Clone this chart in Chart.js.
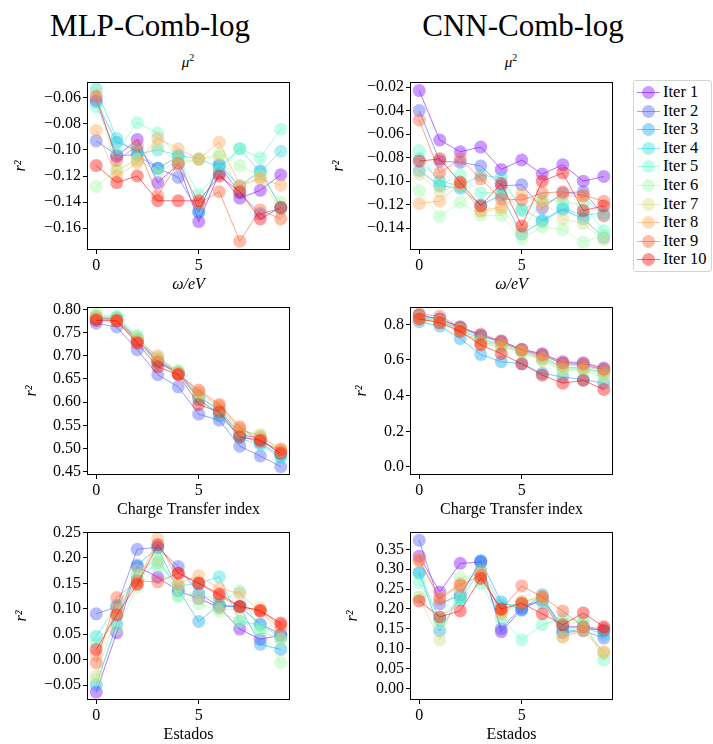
<!DOCTYPE html>
<html>
<head>
<meta charset="utf-8">
<script src="https://cdn.jsdelivr.net/npm/chart.js@4.4.1/dist/chart.umd.min.js"></script>
<style>
  body { margin: 0; background: #fff; font-family: "Liberation Serif", serif; color: #000; }
  #page { position: relative; width: 713px; height: 744px; overflow: hidden; }
  .panel { position: absolute; }
  .bigtitle { position: absolute; font-size: 31px; line-height: 31px; transform: translateX(-50%); white-space: nowrap; }
  .coltitle { position: absolute; font-size: 15px; line-height: 15px; transform: translateX(-50%); white-space: nowrap; }
  .coltitle sup { font-size: 10px; font-style: normal; }
  #legend { position: absolute; left: 633px; top: 80px; width: 79px; height: 192px; box-sizing: border-box;
            border: 1px solid #d4d4d4; border-radius: 3px; padding-top: 2px; }
  .lrow { position: relative; height: 18.6px; line-height: 18.6px; font-size: 16.5px; }
  .lline { position: absolute; left: 3px; width: 23px; top: 9px; height: 1px; }
  .ldot { position: absolute; left: 8px; top: 3px; width: 13px; height: 13px; border-radius: 50%; }
  .ltext { position: absolute; left: 29px; }
</style>
</head>
<body>
<div id="page">
  <div class="bigtitle" style="left:150px; top:10px;">MLP-Comb-log</div>
  <div class="bigtitle" style="left:523px; top:10px;">CNN-Comb-log</div>
  <div class="coltitle" style="left:188px; top:50px;"><i>μ</i><sup>2</sup></div>
  <div class="coltitle" style="left:511px; top:50px;"><i>μ</i><sup>2</sup></div>
  <div id="legend"></div>
</div>
<script>
const iterLabels = ["Iter 1", "Iter 2", "Iter 3", "Iter 4", "Iter 5",
                    "Iter 6", "Iter 7", "Iter 8", "Iter 9", "Iter 10"];
// rainbow colormap, purple -> red
const iterColors = [[128, 0, 255], [71, 87, 251], [14, 164, 240], [43, 221, 221], [99, 251, 195],
                    [156, 251, 164], [213, 221, 128], [255, 164, 87], [255, 87, 44], [255, 0, 0]];
const stepIndex = [0, 1, 2, 3, 4, 5, 6, 7, 8, 9];
const xTickValues = [0, 5];

// one row per iteration
const mlpMu2 = [
  [-0.062, -0.105, -0.092, -0.125, -0.111, -0.155, -0.118, -0.137, -0.131, -0.119],
  [-0.093, -0.104, -0.104, -0.114, -0.121, -0.148, -0.112, -0.133, -0.149, -0.145],
  [-0.063, -0.094, -0.100, -0.114, -0.105, -0.147, -0.111, -0.128, -0.116, -0.144],
  [-0.053, -0.091, -0.103, -0.100, -0.104, -0.107, -0.113, -0.099, -0.117, -0.101],
  [-0.067, -0.101, -0.079, -0.087, -0.106, -0.134, -0.116, -0.099, -0.106, -0.084],
  [-0.128, -0.115, -0.107, -0.117, -0.109, -0.107, -0.103, -0.112, -0.120, -0.140],
  [-0.057, -0.116, -0.108, -0.096, -0.111, -0.107, -0.105, -0.129, -0.121, -0.147],
  [-0.085, -0.120, -0.110, -0.091, -0.099, -0.107, -0.094, -0.127, -0.122, -0.127],
  [-0.059, -0.108, -0.097, -0.135, -0.110, -0.141, -0.132, -0.170, -0.146, -0.153],
  [-0.112, -0.125, -0.120, -0.139, -0.139, -0.139, -0.120, -0.132, -0.153, -0.144]
];
const cnnMu2 = [
  [-0.023, -0.065, -0.075, -0.071, -0.090, -0.082, -0.094, -0.086, -0.100, -0.096],
  [-0.040, -0.083, -0.084, -0.087, -0.104, -0.103, -0.123, -0.110, -0.109, -0.129],
  [-0.091, -0.104, -0.106, -0.120, -0.112, -0.145, -0.134, -0.124, -0.132, -0.148],
  [-0.081, -0.100, -0.104, -0.095, -0.097, -0.124, -0.133, -0.123, -0.129, -0.127],
  [-0.074, -0.103, -0.095, -0.110, -0.109, -0.125, -0.115, -0.118, -0.120, -0.142],
  [-0.108, -0.130, -0.118, -0.129, -0.129, -0.149, -0.139, -0.141, -0.152, -0.146],
  [-0.094, -0.109, -0.103, -0.126, -0.124, -0.142, -0.117, -0.132, -0.136, -0.150],
  [-0.119, -0.117, -0.102, -0.125, -0.122, -0.111, -0.120, -0.112, -0.113, -0.130],
  [-0.048, -0.093, -0.081, -0.098, -0.115, -0.116, -0.110, -0.109, -0.112, -0.117],
  [-0.083, -0.081, -0.101, -0.121, -0.102, -0.138, -0.100, -0.093, -0.125, -0.121]
];
const mlpCharge = [
  [0.780, 0.779, 0.735, 0.690, 0.663, 0.612, 0.583, 0.531, 0.521, 0.488],
  [0.770, 0.762, 0.713, 0.659, 0.633, 0.574, 0.561, 0.505, 0.484, 0.461],
  [0.781, 0.780, 0.733, 0.688, 0.661, 0.608, 0.570, 0.528, 0.512, 0.484],
  [0.784, 0.782, 0.737, 0.684, 0.664, 0.605, 0.577, 0.522, 0.508, 0.480],
  [0.785, 0.785, 0.744, 0.692, 0.667, 0.615, 0.581, 0.534, 0.524, 0.486],
  [0.790, 0.783, 0.741, 0.695, 0.668, 0.610, 0.586, 0.537, 0.531, 0.492],
  [0.787, 0.778, 0.739, 0.697, 0.665, 0.618, 0.589, 0.540, 0.528, 0.495],
  [0.783, 0.777, 0.731, 0.700, 0.662, 0.622, 0.592, 0.543, 0.526, 0.500],
  [0.778, 0.776, 0.729, 0.686, 0.660, 0.626, 0.595, 0.547, 0.515, 0.497],
  [0.776, 0.775, 0.727, 0.676, 0.659, 0.595, 0.579, 0.525, 0.518, 0.490]
];
const cnnCharge = [
  [0.852, 0.830, 0.785, 0.738, 0.705, 0.660, 0.635, 0.590, 0.585, 0.555],
  [0.848, 0.828, 0.782, 0.735, 0.700, 0.655, 0.625, 0.580, 0.572, 0.545],
  [0.815, 0.790, 0.720, 0.630, 0.590, 0.580, 0.525, 0.505, 0.490, 0.470],
  [0.840, 0.818, 0.775, 0.720, 0.690, 0.650, 0.610, 0.560, 0.555, 0.530],
  [0.845, 0.822, 0.772, 0.715, 0.680, 0.645, 0.605, 0.555, 0.550, 0.525],
  [0.842, 0.815, 0.768, 0.705, 0.672, 0.642, 0.600, 0.548, 0.545, 0.515],
  [0.835, 0.812, 0.765, 0.690, 0.675, 0.648, 0.595, 0.540, 0.540, 0.500],
  [0.830, 0.815, 0.770, 0.695, 0.695, 0.652, 0.615, 0.570, 0.565, 0.540],
  [0.858, 0.845, 0.785, 0.745, 0.708, 0.658, 0.630, 0.585, 0.578, 0.548],
  [0.830, 0.808, 0.760, 0.685, 0.635, 0.578, 0.515, 0.470, 0.485, 0.435]
];
const mlpStates = [
  [-0.064, 0.053, 0.183, 0.162, 0.135, 0.120, 0.103, 0.060, 0.040, 0.048],
  [0.090, 0.104, 0.217, 0.221, 0.183, 0.130, 0.105, 0.104, 0.070, 0.050],
  [-0.050, 0.070, 0.186, 0.220, 0.137, 0.075, 0.108, 0.104, 0.030, 0.020],
  [0.046, 0.107, 0.160, 0.190, 0.145, 0.150, 0.163, 0.075, 0.068, 0.045],
  [0.032, 0.085, 0.165, 0.205, 0.125, 0.130, 0.115, 0.135, 0.055, 0.040],
  [-0.040, 0.060, 0.143, 0.183, 0.125, 0.110, 0.095, 0.075, 0.060, -0.006],
  [-0.032, 0.090, 0.175, 0.195, 0.145, 0.120, 0.100, 0.098, 0.102, 0.040],
  [0.009, 0.100, 0.150, 0.238, 0.150, 0.165, 0.140, 0.130, 0.095, 0.060],
  [-0.006, 0.122, 0.155, 0.153, 0.170, 0.150, 0.125, 0.104, 0.097, 0.068],
  [0.020, 0.088, 0.148, 0.226, 0.170, 0.150, 0.129, 0.105, 0.096, 0.072]
];
const cnnStates = [
  [0.333, 0.243, 0.315, 0.318, 0.143, 0.199, 0.225, 0.155, 0.155, 0.145],
  [0.373, 0.213, 0.235, 0.320, 0.150, 0.205, 0.222, 0.140, 0.145, 0.127],
  [0.292, 0.145, 0.230, 0.322, 0.218, 0.197, 0.236, 0.142, 0.150, 0.146],
  [0.290, 0.172, 0.222, 0.300, 0.210, 0.212, 0.215, 0.150, 0.155, 0.135],
  [0.267, 0.178, 0.225, 0.265, 0.176, 0.122, 0.160, 0.176, 0.170, 0.071],
  [0.230, 0.165, 0.279, 0.288, 0.185, 0.215, 0.225, 0.165, 0.165, 0.088],
  [0.229, 0.122, 0.250, 0.280, 0.195, 0.218, 0.228, 0.128, 0.150, 0.090],
  [0.325, 0.229, 0.264, 0.295, 0.190, 0.218, 0.232, 0.130, 0.145, 0.092],
  [0.322, 0.225, 0.260, 0.285, 0.198, 0.258, 0.230, 0.195, 0.155, 0.150],
  [0.220, 0.180, 0.195, 0.277, 0.200, 0.214, 0.188, 0.160, 0.190, 0.155]
];

// y tick positions per panel
const mlpMu2Ticks = [-0.16, -0.14, -0.12, -0.10, -0.08, -0.06];
const cnnMu2Ticks = [-0.14, -0.12, -0.10, -0.08, -0.06, -0.04, -0.02];
const mlpChargeTicks = [0.45, 0.50, 0.55, 0.60, 0.65, 0.70, 0.75, 0.80];
const cnnChargeTicks = [0.0, 0.2, 0.4, 0.6, 0.8];
const mlpStatesTicks = [-0.05, 0.00, 0.05, 0.10, 0.15, 0.20, 0.25];
const cnnStatesTicks = [0.00, 0.05, 0.10, 0.15, 0.20, 0.25, 0.30, 0.35];

const FONT = '"Liberation Serif", serif';
Chart.defaults.font.family = FONT;
Chart.defaults.color = "#000";

const rgba = (c, a) => `rgba(${c[0]}, ${c[1]}, ${c[2]}, ${a})`;
const fmt = (v, d) => v.toFixed(d).replace("-", "\u2212");

// box around the plotting area
const framePlugin = {
    id: "frame",
    afterDraw(chart) {
        const { ctx, chartArea: a } = chart;
        ctx.save();
        ctx.strokeStyle = "#000";
        ctx.lineWidth = 1;
        ctx.strokeRect(Math.round(a.left) + 0.5, Math.round(a.top) + 0.5,
                       Math.round(a.right - a.left) - 1, Math.round(a.bottom - a.top) - 1);
        ctx.restore();
    },
};

const page = document.getElementById("page");

function makePanel(p) {
    const canvas = document.createElement("canvas");
    canvas.className = "panel";
    canvas.width = p.w;
    canvas.height = 225;
    canvas.style.left = p.left + "px";
    canvas.style.top = p.top - 12 + "px";
    page.appendChild(canvas);

    const datasets = p.series.map((vals, i) => ({
        label: iterLabels[i],
        data: vals.map((v, k) => ({ x: stepIndex[k], y: v })),
        borderColor: rgba(iterColors[i], 0.55),
        backgroundColor: rgba(iterColors[i], 0.4),
        borderWidth: 1,
        pointRadius: 6.5,
        pointHoverRadius: 6.5,
        pointBorderWidth: 0,
        tension: 0,
        order: 10 - i,
    }));

    new Chart(canvas, {
        type: "line",
        data: { datasets },
        plugins: [framePlugin],
        options: {
            responsive: false,
            animation: false,
            events: [],
            layout: { padding: { top: 12, right: p.w - p.yWidth - 203, left: 0, bottom: 0 } },
            plugins: { legend: { display: false }, tooltip: { enabled: false } },
            scales: {
                x: {
                    type: "linear",
                    min: -0.45,
                    max: 9.45,
                    afterBuildTicks: (s) => { s.ticks = xTickValues.map((v) => ({ value: v })); },
                    afterFit: (s) => { s.height = 45; },
                    border: { display: false },
                    grid: { drawOnChartArea: false, drawTicks: true, tickLength: 4, color: "#000" },
                    ticks: { font: { size: 16 }, padding: 2, maxRotation: 0, callback: (v) => String(v) },
                    title: {
                        display: true,
                        text: p.xTitle,
                        font: { size: 16, style: p.xItalic ? "italic" : "normal" },
                        padding: { top: 0, bottom: 1 },
                    },
                },
                y: {
                    type: "linear",
                    min: p.yMin,
                    max: p.yMax,
                    afterBuildTicks: (s) => { s.ticks = p.yTicks.map((v) => ({ value: v })); },
                    afterFit: (s) => { s.width = p.yWidth; s.paddingTop = 0; s.paddingBottom = 0; },
                    border: { display: false },
                    grid: { drawOnChartArea: false, drawTicks: true, tickLength: 4, color: "#000" },
                    ticks: { font: { size: 16 }, padding: 2, autoSkip: false, callback: (v) => fmt(v, p.dec) },
                    title: {
                        display: true,
                        text: "r\u00b2",
                        font: { size: 16, style: "italic" },
                        padding: { top: p.rX - 9.6, bottom: 0 },
                    },
                },
            },
        },
    });
}

const LEFT = { left: 0, w: 300, yWidth: 87 };
const RIGHT = { left: 320, w: 300, yWidth: 90 };

makePanel({ ...LEFT, top: 82, series: mlpMu2, yTicks: mlpMu2Ticks, yMin: -0.1768, yMax: -0.0478, dec: 2,
            xTitle: "\u03c9/eV", xItalic: true, rX: 21 });
makePanel({ ...RIGHT, top: 82, series: cnnMu2, yTicks: cnnMu2Ticks, yMin: -0.1585, yMax: -0.0157, dec: 2,
            xTitle: "\u03c9/eV", xItalic: true, rX: 19 });
makePanel({ ...LEFT, top: 307, series: mlpCharge, yTicks: mlpChargeTicks, yMin: 0.443, yMax: 0.805, dec: 2,
            xTitle: "Charge Transfer index", xItalic: false, rX: 32 });
makePanel({ ...RIGHT, top: 307, series: cnnCharge, yTicks: cnnChargeTicks, yMin: -0.045, yMax: 0.897, dec: 1,
            xTitle: "Charge Transfer index", xItalic: false, rX: 42 });
makePanel({ ...LEFT, top: 532, series: mlpStates, yTicks: mlpStatesTicks, yMin: -0.0795, yMax: 0.251, dec: 2,
            xTitle: "Estados", xItalic: false, rX: 22 });
makePanel({ ...RIGHT, top: 532, series: cnnStates, yTicks: cnnStatesTicks, yMin: -0.0295, yMax: 0.394, dec: 2,
            xTitle: "Estados", xItalic: false, rX: 33 });

// shared legend
const legend = document.getElementById("legend");
iterLabels.forEach((name, i) => {
    const row = document.createElement("div");
    row.className = "lrow";
    row.innerHTML =
        `<span class="lline" style="background:${rgba(iterColors[i], 0.55)}"></span>` +
        `<span class="ldot" style="background:${rgba(iterColors[i], 0.4)}"></span>` +
        `<span class="ltext">${name}</span>`;
    legend.appendChild(row);
});
</script>
</body>
</html>
